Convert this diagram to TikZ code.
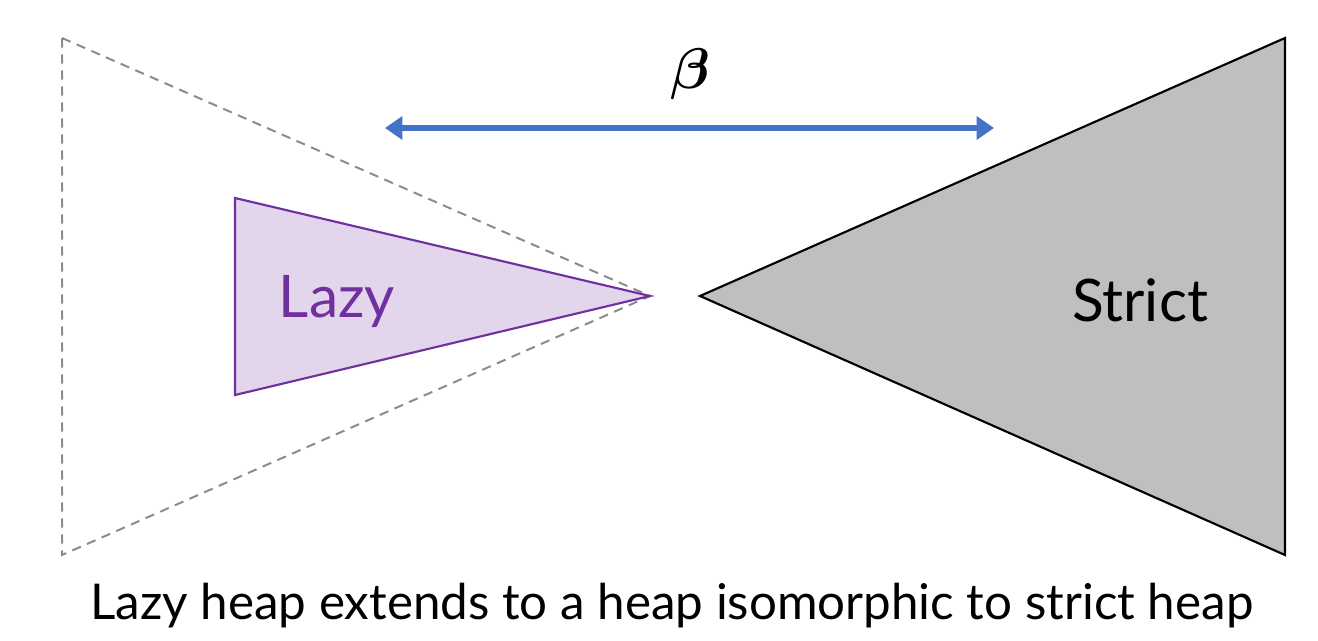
\documentclass[tikz,border=0pt]{standalone}
\usepackage{amsmath,bm}
\usepackage{fontspec}
\setmainfont{Lato}
\usetikzlibrary{arrows.meta}
\definecolor{lazyc}{HTML}{7030A0}
\definecolor{lazyf}{HTML}{E2D5EC}
\definecolor{strictf}{HTML}{BFBFBF}
\definecolor{arrowc}{HTML}{4472C4}
\definecolor{dashc}{HTML}{8C8C8C}
\tikzset{
  ghost/.style={draw=dashc, line width=1.5pt, dash pattern=on 7pt off 5pt},
  lazytri/.style={draw=lazyc, fill=lazyf, line width=1.6pt, line join=miter},
  stricttri/.style={draw=black, fill=strictf, line width=1.6pt},
  betaarrow/.style={draw=arrowc, line width=4.5pt, {Triangle[width=17pt,length=13pt]}-{Triangle[width=17pt,length=13pt]}},
  lbl/.style={inner sep=0pt, font=\fontsize{44}{50}\selectfont},
}
\begin{document}
\begin{tikzpicture}[x=0.75pt,y=-0.75pt]
\useasboundingbox (0,0) rectangle (1318,640);
\coordinate (g1) at (62,38);
\coordinate (g2) at (62,555);
\coordinate (apexL) at (650,296);
\draw[ghost] (g1) -- (apexL) -- (g2) -- cycle;
\draw[lazytri] (235,198) -- (apexL) -- (235,395) -- cycle;
\node[lbl, text=lazyc] (lazy) at (337,302) {Lazy};
\draw[stricttri] (1285,38) -- (700,296) -- (1285,555) -- cycle;
\node[lbl] (strict) at (1140,300) {Strict};
\coordinate (aL) at (385,128);
\coordinate (aR) at (994,128);
\draw[betaarrow] (aL) -- (aR);
\node[inner sep=0pt] (beta) at (690,74) {\scalebox{4.3}{$\bm{\beta}$}};
\node[inner sep=0pt, font=\fontsize{37}{42}\selectfont] (cap) at (672,606) {Lazy heap extends to a heap isomorphic to strict heap};
\end{tikzpicture}
\end{document}
